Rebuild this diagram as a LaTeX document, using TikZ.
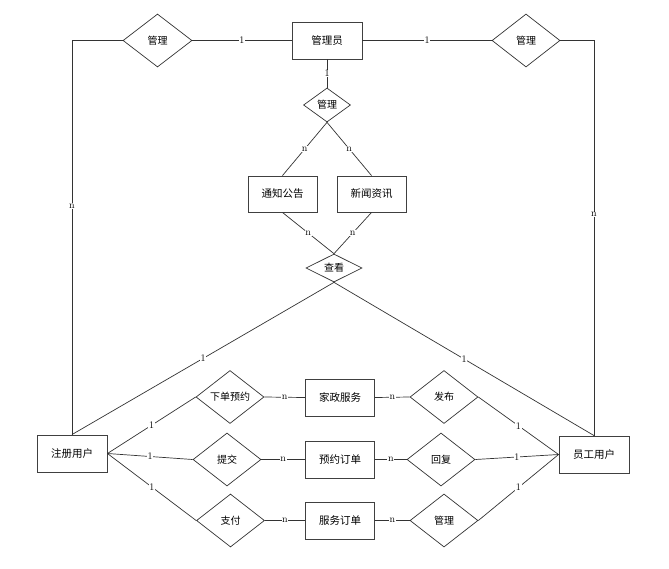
\documentclass[tikz,border=0pt]{standalone}
\usepackage{fontspec}
\newfontfamily\cjk{Noto Sans CJK SC}
\usetikzlibrary{shapes.geometric}
\begin{document}
\begin{tikzpicture}[x=1pt,y=-1pt,
  ent/.style={draw=black!75, line width=0.9pt, minimum width=70pt, minimum height=37pt, inner sep=0pt, font=\cjk\fontsize{10.5}{12}\selectfont},
  rel/.style={draw=black!80, line width=0.7pt, diamond, aspect=1.3, inner sep=0pt, minimum width=68pt, minimum height=53pt, font=\cjk\fontsize{10}{12}\selectfont},
  conn/.style={draw=black!80, line width=0.7pt},
  card/.style={fill=white, inner sep=0.6pt, font=\fontsize{10}{11}\selectfont}
]
\useasboundingbox (0,0) rectangle (669,568);
% entities
\node[ent] (mgr) at (327,40.5) {管理员};
\node[ent, minimum width=69pt, minimum height=36pt] (tz) at (282.5,194) {通知公告};
\node[ent, minimum width=69pt, minimum height=36pt] (xw) at (371.5,194) {新闻资讯};
\node[ent] (zc) at (72,453.5) {注册用户};
\node[ent] (yg) at (594,454.5) {员工用户};
\node[ent, minimum width=69pt] (jz) at (340,397.5) {家政服务};
\node[ent, minimum width=69pt] (yd) at (340,459.5) {预约订单};
\node[ent, minimum width=69pt] (fd) at (340,520.5) {服务订单};
% relations
\node[rel, minimum width=69pt] (lm) at (157.5,40.5) {管理};
\node[rel] (rm) at (526,40.5) {管理};
\node[rel, aspect=1.4, minimum width=47pt, minimum height=34pt] (mm) at (327,105) {管理};
\node[rel, aspect=2, minimum width=56pt, minimum height=28pt] (ck) at (334,268) {查看};
\node[rel] (xd) at (230,397) {下单预约};
\node[rel] (tj) at (227,459.5) {提交};
\node[rel] (zf) at (230.5,520.5) {支付};
\node[rel] (fb) at (444,397) {发布};
\node[rel] (hf) at (441,459.5) {回复};
\node[rel] (gl) at (444,520.5) {管理};
% connectors
\draw[conn] (lm.east) -- node[card]{1} (mgr.west);
\draw[conn] (mgr.east) -- node[card]{1} (rm.west);
\draw[conn] (mgr.south) -- node[card]{1} (mm.north);
\draw[conn] (lm.west) -| node[card, pos=0.71]{n} (zc.north);
\draw[conn] (rm.east) -| node[card, pos=0.72]{n} (yg.north);
\draw[conn] (mm.south) -- node[card]{n} (tz.north);
\draw[conn] (mm.south) -- node[card]{n} (xw.north);
\draw[conn] (tz.south) -- node[card]{n} (ck.north);
\draw[conn] (xw.south) -- node[card]{n} (ck.north);
\draw[conn] (ck.south) -- node[card]{1} (zc.north);
\draw[conn] (ck.south) -- node[card]{1} (yg.north);
\draw[conn] (zc.east) -- node[card]{1} (xd.west);
\draw[conn] (zc.east) -- node[card]{1} (tj.west);
\draw[conn] (zc.east) -- node[card]{1} (zf.west);
\draw[conn] (xd.east) -- node[card]{n} (jz.west);
\draw[conn] (tj.east) -- node[card]{n} (yd.west);
\draw[conn] (zf.east) -- node[card]{n} (fd.west);
\draw[conn] (jz.east) -- node[card]{n} (fb.west);
\draw[conn] (yd.east) -- node[card]{n} (hf.west);
\draw[conn] (fd.east) -- node[card]{n} (gl.west);
\draw[conn] (fb.east) -- node[card]{1} (yg.west);
\draw[conn] (hf.east) -- node[card]{1} (yg.west);
\draw[conn] (gl.east) -- node[card]{1} (yg.west);
\end{tikzpicture}
\end{document}
